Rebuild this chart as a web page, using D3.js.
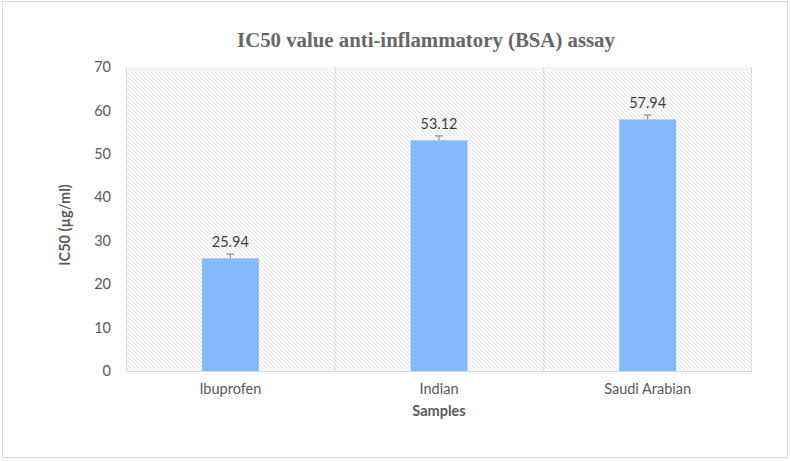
<!DOCTYPE html>
<html>
<head>
<meta charset="utf-8">
<script src="https://cdn.jsdelivr.net/npm/d3@7"></script>
<style>
  body { margin: 0; background: #fff; }
  text { font-family: Lato, "Open Sans", sans-serif; }
</style>
</head>
<body>
<svg id="chart" width="790" height="461"></svg>
<script>
// Data
var samples = ["Ibuprofen", "Indian", "Saudi Arabian"];
var ic50 = [25.94, 53.12, 57.94];
var errors = [1.0, 1.0, 1.0];
var yTicks = [0, 10, 20, 30, 40, 50, 60, 70];

var data = samples.map(function(s, i) {
  return {name: s, value: ic50[i], err: errors[i]};
});

// Plot area
var margin = {top: 67, right: 38, bottom: 90, left: 126};
var width = 790 - margin.left - margin.right;
var height = 461 - margin.top - margin.bottom;

var root = d3.select("#chart");

// Outer border
root.append("rect")
    .attr("x", 2.5).attr("y", 1.5)
    .attr("width", 785).attr("height", 456)
    .attr("fill", "#fff")
    .attr("stroke", "#d9d9d9");

// Hatch pattern for plot background
var pat = root.append("defs").append("pattern")
    .attr("id", "hatch")
    .attr("patternUnits", "userSpaceOnUse")
    .attr("width", 4).attr("height", 4);
pat.append("rect").attr("width", 4).attr("height", 4).attr("fill", "#fff");
pat.append("path")
    .attr("d", "M-1,-1 L5,5 M-1,3 L1,5 M3,-1 L5,1")
    .attr("stroke", "#dedede")
    .attr("stroke-width", 0.9);

var svg = root.append("g")
    .attr("transform", "translate(" + margin.left + "," + margin.top + ")");

// Scales
var x = d3.scaleBand()
    .domain(samples)
    .range([0, width])
    .paddingInner(0)
    .paddingOuter(0);

var y = d3.scaleLinear()
    .domain([0, 70])
    .range([height, 0]);

svg.append("rect")
    .attr("width", width).attr("height", height)
    .attr("fill", "url(#hatch)");

// Vertical separators
svg.selectAll(".sep")
  .data(samples.concat(["end"]))
  .enter().append("line")
    .attr("class", "sep")
    .attr("x1", (d, i) => i < samples.length ? x(d) + 0.5 : width - 0.5)
    .attr("x2", (d, i) => i < samples.length ? x(d) + 0.5 : width - 0.5)
    .attr("y1", 0)
    .attr("y2", height)
    .attr("stroke", "#d9d9d9");

// Bars
var barW = x.bandwidth() * 0.273;
svg.selectAll(".bar")
  .data(data)
  .enter().append("rect")
    .attr("class", "bar")
    .attr("x", d => x(d.name) + x.bandwidth() / 2 - barW / 2)
    .attr("y", d => y(d.value))
    .attr("width", barW)
    .attr("height", d => height - y(d.value))
    .attr("fill", "#85bbfc");

// Error bars
var err = svg.selectAll(".err")
  .data(data)
  .enter().append("g")
    .attr("class", "err")
    .attr("stroke", "#7f7f7f")
    .attr("stroke-width", 1);
err.append("line")
    .attr("x1", d => x(d.name) + x.bandwidth() / 2)
    .attr("x2", d => x(d.name) + x.bandwidth() / 2)
    .attr("y1", d => y(d.value))
    .attr("y2", d => y(d.value + d.err));
err.append("line")
    .attr("x1", d => x(d.name) + x.bandwidth() / 2 - 4)
    .attr("x2", d => x(d.name) + x.bandwidth() / 2 + 4)
    .attr("y1", d => y(d.value + d.err))
    .attr("y2", d => y(d.value + d.err));

// Value labels
svg.selectAll(".val")
  .data(data)
  .enter().append("text")
    .attr("class", "val")
    .attr("x", d => x(d.name) + x.bandwidth() / 2)
    .attr("y", d => y(d.value + d.err) - 7)
    .attr("text-anchor", "middle")
    .attr("font-size", 14.5)
    .attr("fill", "#404040")
    .text(d => d.value.toFixed(2));

// Bottom axis line
svg.append("line")
    .attr("x1", 0).attr("x2", width)
    .attr("y1", height + 0.5).attr("y2", height + 0.5)
    .attr("stroke", "#d9d9d9");

// Y axis
var yAxis = d3.axisLeft(y).tickValues(yTicks).tickSize(0).tickPadding(15);
svg.append("g")
    .call(yAxis)
    .call(g => g.select(".domain").remove())
    .selectAll("text")
      .attr("font-size", 14.5)
      .attr("fill", "#595959")
      .style("font-family", "Lato, sans-serif");

// X axis labels
var xAxis = d3.axisBottom(x).tickSize(0).tickPadding(13);
svg.append("g")
    .attr("transform", "translate(0," + height + ")")
    .call(xAxis)
    .call(g => g.select(".domain").remove())
    .selectAll("text")
      .attr("font-size", 14.5)
      .attr("fill", "#595959")
      .style("font-family", "Lato, sans-serif");

// Axis titles
svg.append("text")
    .attr("x", width / 2)
    .attr("y", height + 45)
    .attr("text-anchor", "middle")
    .attr("font-size", 14.5)
    .attr("font-weight", "bold")
    .attr("fill", "#595959")
    .text("Samples");

svg.append("text")
    .attr("transform", "translate(-56," + (height / 2 + 6) + ") rotate(-90)")
    .attr("text-anchor", "middle")
    .attr("font-size", 14.5)
    .attr("font-weight", "bold")
    .attr("fill", "#595959")
    .text("IC50 (µg/ml)");

// Chart title
root.append("text")
    .attr("x", 426)
    .attr("y", 47)
    .attr("text-anchor", "middle")
    .attr("font-size", 20.8)
    .attr("font-weight", "bold")
    .attr("fill", "#666666")
    .style("font-family", "'Liberation Serif', 'Times New Roman', serif")
    .text("IC50 value anti-inflammatory (BSA) assay");
</script>
</body>
</html>
